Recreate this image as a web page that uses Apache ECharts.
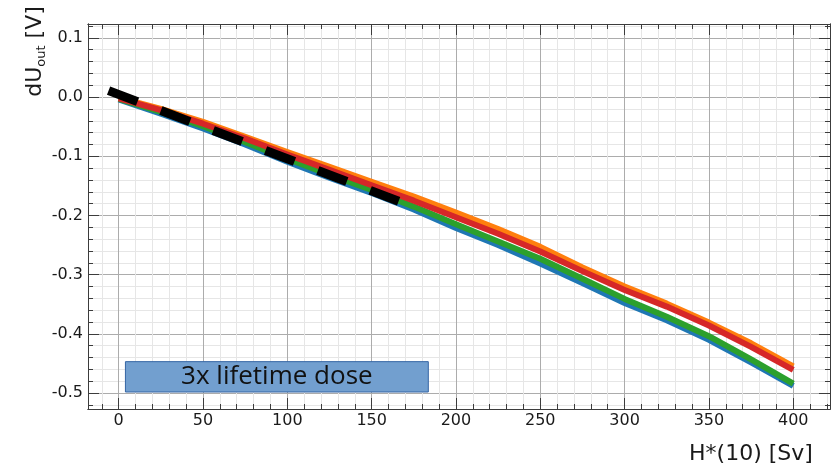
<!DOCTYPE html>
<html>
<head>
<meta charset="utf-8">
<script src="https://cdn.jsdelivr.net/npm/echarts@6/dist/echarts.min.js"></script>
<style>
  html, body { margin: 0; padding: 0; background: #ffffff; }
  #chart { width: 835px; height: 471px; }
</style>
</head>
<body>
<div id="chart"></div>
<script>
// Accumulated dose H*(10) in Sv
const dose = [0, 25, 50, 75, 100, 125, 150, 175, 200, 225, 250, 275, 300, 325, 350, 375, 400];

// Output voltage drift dU_out in V for the four channels
const chBlue   = [-0.004, -0.028, -0.053, -0.080, -0.109, -0.136, -0.162, -0.190, -0.221, -0.250, -0.281, -0.314, -0.348, -0.377, -0.410, -0.448, -0.488];
const chOrange = [-0.001, -0.020, -0.042, -0.067, -0.093, -0.118, -0.143, -0.168, -0.195, -0.223, -0.253, -0.288, -0.320, -0.349, -0.381, -0.416, -0.455];
const chGreen  = [-0.003, -0.025, -0.049, -0.076, -0.104, -0.131, -0.157, -0.185, -0.215, -0.244, -0.273, -0.307, -0.341, -0.371, -0.404, -0.443, -0.484];
const chRed    = [-0.002, -0.022, -0.045, -0.070, -0.097, -0.123, -0.149, -0.175, -0.203, -0.231, -0.261, -0.294, -0.326, -0.354, -0.386, -0.422, -0.461];

// Linear fit over the early part of the irradiation
const fitDose = [-6, 166];
const fitU    = [0.011, -0.176];

// Tick positions
const xMajorTicks = [0, 50, 100, 150, 200, 250, 300, 350, 400];
const xMinorTicks = [-10, 10, 20, 30, 40, 60, 70, 80, 90, 110, 120, 130, 140, 160, 170, 180, 190,
                     210, 220, 230, 240, 260, 270, 280, 290, 310, 320, 330, 340, 360, 370, 380, 390, 410, 420];
const yMajorTicks = [-0.5, -0.4, -0.3, -0.2, -0.1, 0.0, 0.1];
const yMinorTicks = [-0.52, -0.48, -0.46, -0.44, -0.42, -0.38, -0.36, -0.34, -0.32, -0.28, -0.26, -0.24, -0.22,
                     -0.18, -0.16, -0.14, -0.12, -0.08, -0.06, -0.04, -0.02, 0.02, 0.04, 0.06, 0.08, 0.12];

const annotationText = '3x lifetime dose';

const X_MIN = -18.2, X_MAX = 421.8;
const Y_MIN = -0.527, Y_MAX = 0.1235;

const FRAME = '#3c3c3c';
const MAJOR_GRID = '#acacac';
const MINOR_GRID = '#e6e6e6';
const FONT = 'DejaVu Sans';

function pairs(xs, ys) { return xs.map((x, i) => [x, ys[i]]); }

function frameAxis(opts) {
  const major = opts.major;
  return {
    type: 'value',
    min: opts.min, max: opts.max,
    position: opts.position,
    axisLine: { show: true, onZero: false, lineStyle: { color: FRAME, width: 1 } },
    axisTick: { show: true, inside: true, length: major ? 11 : 5,
                customValues: opts.ticks, lineStyle: { color: FRAME, width: 1 } },
    axisLabel: opts.labels ? {
      show: true, customValues: opts.ticks, fontFamily: FONT, fontSize: 16, color: '#1a1a1a',
      margin: opts.margin, formatter: opts.formatter
    } : { show: false },
    splitLine: opts.grid ? { show: true, lineStyle: { color: major ? MAJOR_GRID : MINOR_GRID, width: 1 } } : { show: false },
    minorTick: { show: false },
    minorSplitLine: { show: false }
  };
}

const chart = echarts.init(document.getElementById('chart'), null, { renderer: 'canvas' });

const lineSeries = (name, color, ys) => ({
  name, type: 'line', xAxisIndex: 1, yAxisIndex: 1,
  data: pairs(dose, ys),
  showSymbol: false, symbol: 'none',
  lineStyle: { color, width: 6, join: 'round' },
  itemStyle: { color },
  silent: true, z: 3
});

chart.setOption({
  animation: false,
  backgroundColor: '#ffffff',
  grid: { left: 88, right: 5, top: 24, bottom: 62, containLabel: false },
  xAxis: [
    frameAxis({ min: X_MIN, max: X_MAX, position: 'bottom', ticks: xMinorTicks, major: false, grid: true }),
    frameAxis({ min: X_MIN, max: X_MAX, position: 'bottom', ticks: xMajorTicks, major: true, grid: true,
                labels: true, margin: 4, formatter: v => String(Math.round(v)) }),
    frameAxis({ min: X_MIN, max: X_MAX, position: 'top', ticks: xMinorTicks, major: false }),
    frameAxis({ min: X_MIN, max: X_MAX, position: 'top', ticks: xMajorTicks, major: true })
  ],
  yAxis: [
    frameAxis({ min: Y_MIN, max: Y_MAX, position: 'left', ticks: yMinorTicks, major: false, grid: true }),
    frameAxis({ min: Y_MIN, max: Y_MAX, position: 'left', ticks: yMajorTicks, major: true, grid: true,
                labels: true, margin: 5, formatter: v => v.toFixed(1) }),
    frameAxis({ min: Y_MIN, max: Y_MAX, position: 'right', ticks: yMinorTicks, major: false }),
    frameAxis({ min: Y_MIN, max: Y_MAX, position: 'right', ticks: yMajorTicks, major: true })
  ],
  series: [
    lineSeries('ch1', '#1f77b4', chBlue),
    lineSeries('ch2', '#ff7f0e', chOrange),
    lineSeries('ch3', '#2ca02c', chGreen),
    lineSeries('ch4', '#d62728', chRed),
    {
      name: 'fit', type: 'line', xAxisIndex: 1, yAxisIndex: 1,
      data: pairs(fitDose, fitU),
      showSymbol: false, symbol: 'none', silent: true, z: 5,
      lineStyle: { color: '#000000', width: 9, type: [31, 25], cap: 'butt' },
      markArea: {
        silent: true,
        itemStyle: { color: '#729fcf', borderColor: '#3465a4', borderWidth: 1, opacity: 1 },
        label: {
          show: true, position: 'inside', color: '#111111',
          fontFamily: 'Open Sans', fontSize: 26
        },
        data: [[
          { name: annotationText, coord: [4.0, -0.447] },
          { coord: [183.6, -0.4983] }
        ]]
      }
    }
  ],
  graphic: [
    {
      type: 'text', x: 35.6, y: 51.5, rotation: Math.PI / 2,
      style: {
        text: '{a|dU}{b|out}{a| [V]}',
        align: 'center', verticalAlign: 'middle',
        rich: {
          a: { fontFamily: FONT, fontSize: 22, lineHeight: 28, fill: '#1a1a1a', color: '#1a1a1a' },
          b: { fontFamily: FONT, fontSize: 13, lineHeight: 13, verticalAlign: 'bottom',
               padding: [0, 0, 1, 0], fill: '#1a1a1a', color: '#1a1a1a' }
        }
      }
    },
    {
      type: 'text', x: 751, y: 454,
      style: {
        text: 'H*(10) [Sv]', fontFamily: FONT, fontSize: 22,
        align: 'center', verticalAlign: 'middle', fill: '#1a1a1a'
      }
    }
  ]
});
</script>
</body>
</html>
